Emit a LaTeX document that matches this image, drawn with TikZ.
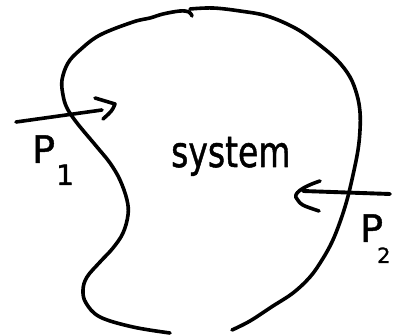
\documentclass[tikz,border=0pt]{standalone}
\usepackage{fontspec}
\setmainfont{DejaVu Sans}
\newfontfamily\hand{DejaVu Sans}[FakeBold=1.2]
\begin{document}
\begin{tikzpicture}[x=1pt,y=-1pt,line cap=round,line join=round,
  pen/.style={line width=3.6pt,black},
  lbl/.style={inner sep=0pt,anchor=base west,font=\hand\fontsize{38}{38}\selectfont}]
\useasboundingbox (0,0) rectangle (400,336);

% boundary of the system
\draw[pen] plot[smooth,tension=0.6] coordinates {(190,9) (213,8) (240,11) (267,16) (295,28) (317,43) (337,60) (350,77) (357,95) (360,112) (360,130) (358,150) (353,175) (347,200) (340,222) (332,242) (322,260) (310,277) (293,293) (273,306) (250,321) (232,330)};
\draw[pen] plot[smooth,tension=0.6] coordinates {(192,16) (189,12) (180,11) (163,14) (150,18) (133,22) (100,35) (80,50) (68,63) (62,80) (63,95) (67,108) (77,123) (97,147) (110,163) (120,180) (127,200) (128,215) (123,233) (113,248) (100,262) (87,277) (83,290) (86,303) (100,317) (133,327) (170,333)};

% label inside
\node[inner sep=0pt,anchor=base west,font=\hand\fontsize{33}{33}\selectfont] (sys) at (171,167) {\scalebox{1}[1.3]{system}};

% arrow P1
\coordinate (a1s) at (16,122);
\coordinate (a1e) at (102,110);
\coordinate (a1t) at (115,104);
\draw[pen] (a1s) -- (a1e);
\draw[pen] (95,98) -- (a1t) .. controls (112,111) .. (103,119);
\node[lbl] (p1) at (32,163) {P\kern1pt{\fontsize{28}{28}\selectfont\raisebox{-22pt}{1}}};

% arrow P2
\coordinate (a2s) at (390,194);
\coordinate (a2e) at (303,191);
\coordinate (a2t) at (297,199);
\draw[pen,line width=3.9pt] (a2s) -- (a2e);
\draw[pen] (320,181) .. controls (302,187) and (292,194) .. (a2t) .. controls (301,205) .. (319,211);
\node[lbl] (p2) at (360,242) {P\kern-6pt{\fontsize{21}{21}\selectfont\raisebox{-21pt}{2}}};
\end{tikzpicture}
\end{document}
